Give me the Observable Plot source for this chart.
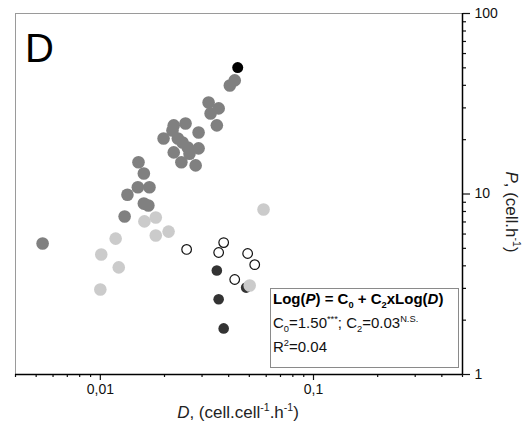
<!DOCTYPE html>
<html><head><meta charset="utf-8">
<script src="https://cdn.jsdelivr.net/npm/d3@7"></script>
<script src="https://cdn.jsdelivr.net/npm/@observablehq/plot@0.6"></script>
<style>body{margin:0;background:#fff} svg{display:block}</style>
</head><body><div id="chart"></div>
<script>
// ---- data (D: cell.cell-1.h-1, P: cell.h-1) ----
const greyD = [0.0427,0.0405,0.0322,0.0359,0.0329,0.0352,0.0251,0.0221,0.0218,0.0289,0.0198,0.0231,0.0243,0.0257,0.0289,0.0221,0.0262,0.0240,0.0280,0.0151,0.0160,0.0150,0.0170,0.0134,0.0160,0.0168,0.0130,0.00536];
const greyP = [42.6,39.9,32.1,29.8,27.9,24.0,24.6,24.0,22.5,21.9,20.3,20.3,19.3,18.1,17.9,17.0,16.7,15.0,14.4,15.0,13.0,10.9,10.9,9.9,8.85,8.63,7.50,5.32];
const lightD = [0.0182,0.0161,0.0182,0.0209,0.0118,0.0101,0.0122,0.0100,0.0583,0.0502];
const lightP = [7.41,7.05,5.89,6.19,5.66,4.62,3.92,2.96,8.20,3.11];
const openD = [0.0254,0.0379,0.0359,0.0491,0.0530,0.0427];
const openP = [4.93,5.38,4.74,4.68,4.06,3.36];
const darkD = [0.0352,0.0359,0.0379,0.0483];
const darkP = [3.77,2.61,1.80,3.03];
const blackD = [0.0441];
const blackP = [50.2];

const xMajorTicks = [0.01, 0.1];
const xTickLabels = ["0,01", "0,1"];
const xMinorTicks = [0.004,0.005,0.006,0.007,0.008,0.009,0.02,0.03,0.04,0.05,0.06,0.07,0.08,0.09,0.2,0.3,0.4,0.5];
const yMajorTicks = [1, 10, 100];
const yTickLabels = ["1", "10", "100"];
const yMinorTicks = [2,3,4,5,6,7,8,9,20,30,40,50,60,70,80,90];

const rows = (D, P) => D.map((d, i) => ({D: d, P: P[i]}));
const xLab = new Map(xMajorTicks.map((v, i) => [v, xTickLabels[i]]));
const yLab = new Map(yMajorTicks.map((v, i) => [v, yTickLabels[i]]));

const chart = Plot.plot({
  width: 532, height: 427,
  marginLeft: 15, marginRight: 70, marginTop: 13, marginBottom: 53,
  style: {fontFamily: "'Liberation Sans', Arial, sans-serif", fontSize: "14px", color: "#111", background: "#fff"},
  x: {type: "log", domain: [0.004, 0.5]},
  y: {type: "log", domain: [1, 100]},
  marks: [
    Plot.ruleX([0.004], {stroke: "#9a9a9a", strokeWidth: 1}),
    Plot.ruleY([100], {stroke: "#9a9a9a", strokeWidth: 1}),
    Plot.axisX(xMinorTicks, {tickSize: 3, tickFormat: () => "", label: null, strokeWidth: 1.2}),
    Plot.axisX(xMajorTicks, {tickSize: 6, tickPadding: 4, tickFormat: d => xLab.get(d), label: null, strokeWidth: 1.2}),
    Plot.axisY(yMinorTicks, {anchor: "right", tickSize: 3, tickFormat: () => "", label: null, strokeWidth: 1.2}),
    Plot.axisY(yMajorTicks, {anchor: "right", tickSize: 7, tickPadding: 5, tickFormat: d => yLab.get(d), label: null, strokeWidth: 1.2}),
    Plot.ruleY([1], {stroke: "#000", strokeWidth: 1.5}),
    Plot.ruleX([0.5], {stroke: "#000", strokeWidth: 1.5}),
    Plot.dot(rows(darkD, darkP), {x: "D", y: "P", r: 5.3, fill: "#333", stroke: "none"}),
    Plot.dot(rows(lightD, lightP), {x: "D", y: "P", r: 6.3, fill: "#cbcbcb", stroke: "none"}),
    Plot.dot(rows(greyD, greyP), {x: "D", y: "P", r: 6.3, fill: "#808080", stroke: "none"}),
    Plot.dot(rows(openD, openP), {x: "D", y: "P", r: 4.8, fill: "#fff", stroke: "#111", strokeWidth: 1.2}),
    Plot.dot(rows(blackD, blackP), {x: "D", y: "P", r: 5.5, fill: "#000", stroke: "none"})
  ]
});
document.getElementById("chart").appendChild(chart);

// ---- annotations ----
const svg = d3.select(chart);
function rich(t, parts, size) {
  let shift = 0;
  for (const [s, kind] of parts) {
    const ts = t.append("tspan").text(s);
    let target = 0;
    if (kind === "sup") { target = -0.42 * size; ts.attr("font-size", size * 0.62); }
    if (kind === "sub") { target = 0.28 * size; ts.attr("font-size", size * 0.62); }
    if (kind === "i") ts.attr("font-style", "italic");
    if (target !== shift) { ts.attr("dy", target - shift); shift = target; }
  }
}
const ff = "'Liberation Sans', Arial, sans-serif";

svg.append("text").attr("x", 25).attr("y", 62).attr("text-anchor", "start").attr("font-family", ff)
  .attr("font-size", 40).attr("fill", "#000").text("D");

const xl = svg.append("text").attr("x", 238).attr("y", 418).attr("text-anchor", "middle")
  .attr("font-family", ff).attr("font-size", 17).attr("fill", "#222");
rich(xl, [["D","i"],[", (cell.cell"],["-1","sup"],[".h"],["-1","sup"],[")"]], 17);

const yl = svg.append("text").attr("transform", "translate(506,212) rotate(90)").attr("text-anchor", "middle")
  .attr("font-family", ff).attr("font-size", 17).attr("fill", "#222");
rich(yl, [["P","i"],[", (cell.h"],["-1","sup"],[")"]], 17);

svg.append("rect").attr("x", 270.5).attr("y", 288.5).attr("width", 188).attr("height", 79)
  .attr("fill", "#fff").attr("stroke", "#8a8a8a").attr("stroke-width", 1);
const l1 = svg.append("text").attr("x", 273).attr("y", 304).attr("text-anchor", "start").attr("font-family", ff)
  .attr("font-size", 15).attr("font-weight", "bold").attr("fill", "#000");
rich(l1, [["Log("],["P","i"],[") = C"],["0","sub"],[" + C"],["2","sub"],["xLog("],["D","i"],[")"]], 15);
const l2 = svg.append("text").attr("x", 273).attr("y", 328).attr("text-anchor", "start").attr("font-family", ff)
  .attr("font-size", 15).attr("fill", "#111");
rich(l2, [["C"],["0","sub"],["=1.50"],["***","sup"],["; C"],["2","sub"],["=0.03"],["N.S.","sup"]], 15);
const l3 = svg.append("text").attr("x", 273).attr("y", 352).attr("text-anchor", "start").attr("font-family", ff)
  .attr("font-size", 15).attr("fill", "#111");
rich(l3, [["R"],["2","sup"],["=0.04"]], 15);
</script></body></html>
